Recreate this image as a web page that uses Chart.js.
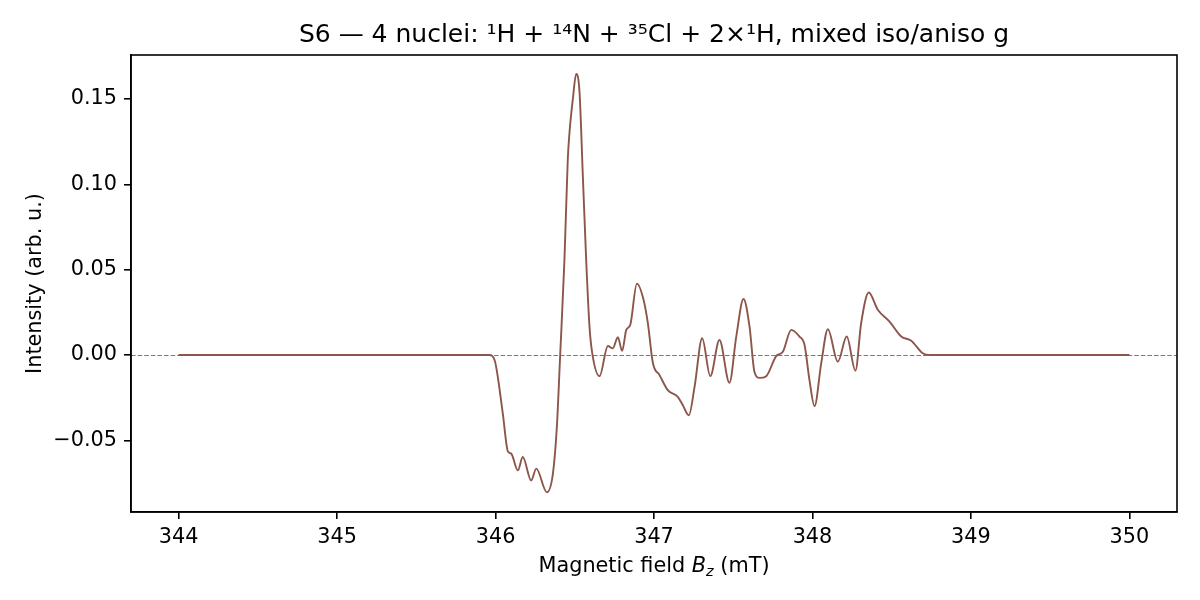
<!DOCTYPE html>
<html>
<head>
<meta charset="utf-8">
<script src="https://cdn.jsdelivr.net/npm/chart.js@4.4.1/dist/chart.umd.min.js"></script>
<style>
  html, body { margin: 0; padding: 0; background: #fff; }
  #epr-chart { display: block; }
</style>
</head>
<body>
<canvas id="epr-chart" width="1200" height="600"></canvas>
<script>
// --- datos ---
const fieldValues = [
    344.000, 345.962, 345.994, 346.046, 346.078, 346.099, 346.141, 346.172,
    346.225, 346.257, 346.324, 346.362, 346.387, 346.408, 346.435, 346.456,
    346.467, 346.488, 346.509, 346.530, 346.551, 346.572, 346.593, 346.610,
    346.656, 346.709, 346.740, 346.772, 346.799, 346.825, 346.850, 346.892,
    346.934, 346.961, 346.993, 347.035, 347.087, 347.150, 347.182, 347.220,
    347.256, 347.304, 347.355, 347.413, 347.476, 347.519, 347.565, 347.603,
    347.634, 347.666, 347.708, 347.771, 347.813, 347.866, 347.918, 347.950,
    347.981, 348.013, 348.055, 348.097, 348.160, 348.216, 348.271, 348.307,
    348.355, 348.412, 348.486, 348.560, 348.623, 348.696, 348.738, 350.000
];
const intensityValues = [
    0.0000, 0.0000, -0.0029, -0.0343, -0.0565, -0.0578, -0.0676, -0.0598,
    -0.0735, -0.0666, -0.0804, -0.0696, -0.0422, 0.0000, 0.0559, 0.1147,
    0.1306, 0.1500, 0.1647, 0.1541, 0.1049, 0.0559, 0.0166, 0.0012,
    -0.0124, 0.0053, 0.0039, 0.0104, 0.0024, 0.0147, 0.0176, 0.0418,
    0.0324, 0.0188, -0.0047, -0.0118, -0.0206, -0.0245, -0.0294, -0.0353,
    -0.0186, 0.0098, -0.0124, 0.0088, -0.0163, 0.0108, 0.0328, 0.0165,
    -0.0100, -0.0134, -0.0124, -0.0006, 0.0019, 0.0147, 0.0108, 0.0059,
    -0.0147, -0.0300, -0.0049, 0.0151, -0.0039, 0.0108, -0.0092, 0.0186,
    0.0366, 0.0265, 0.0196, 0.0108, 0.0084, 0.0010, 0.0000, 0.0000
];
const xTickValues = [344, 345, 346, 347, 348, 349, 350];
const yTickValues = [-0.05, 0.00, 0.05, 0.10, 0.15];
const xLimits = [343.7, 350.3];
const yLimits = [-0.0920, 0.1758];

const chartTitle = 'S6 \u2014 4 nuclei: \u00b9H + \u00b9\u2074N + \u00b3\u2075Cl + 2\u00d7\u00b9H, mixed iso/aniso g';
const yAxisTitle = 'Intensity (arb. u.)';

const FONT = '"DejaVu Sans", "Liberation Sans", sans-serif';
const lineColor = '#8c564b';

// marco completo, línea del cero, título y títulos de los ejes
const framePlugin = {
    id: 'frame',
    beforeDatasetsDraw(chart) {
        const { ctx, chartArea, scales } = chart;
        const y0 = Math.round(scales.y.getPixelForValue(0)) + 0.5;
        ctx.save();
        ctx.strokeStyle = '#7a7a7a';
        ctx.lineWidth = 1;
        ctx.setLineDash([4.6, 2]);
        ctx.beginPath();
        ctx.moveTo(chartArea.left, y0);
        ctx.lineTo(chartArea.right, y0);
        ctx.stroke();
        ctx.restore();
    },
    afterDraw(chart) {
        const { ctx, chartArea } = chart;
        const cx = (chartArea.left + chartArea.right) / 2;
        ctx.save();
        ctx.strokeStyle = '#000';
        ctx.lineWidth = 1.6;
        ctx.strokeRect(chartArea.left, chartArea.top,
            chartArea.right - chartArea.left, chartArea.bottom - chartArea.top);

        ctx.fillStyle = '#000';
        ctx.textBaseline = 'alphabetic';

        // título centrado sobre el área del gráfico
        ctx.font = '25px ' + FONT;
        ctx.textAlign = 'center';
        ctx.fillText(chartTitle, cx, 42);

        // título eje X con B en cursiva y subíndice z
        const big = '20.8px ' + FONT;
        const bigIt = 'italic 20.8px ' + FONT;
        const small = 'italic 14.5px ' + FONT;
        const parts = [
            { t: 'Magnetic field ', f: big, dy: 0 },
            { t: 'B', f: bigIt, dy: 0 },
            { t: 'z', f: small, dy: 4 },
            { t: ' (mT)', f: big, dy: 0 }
        ];
        let total = 0;
        parts.forEach(p => { ctx.font = p.f; p.w = ctx.measureText(p.t).width; total += p.w; });
        let x = cx - total / 2;
        ctx.textAlign = 'left';
        parts.forEach(p => { ctx.font = p.f; ctx.fillText(p.t, x, 572 + p.dy); x += p.w; });

        // título eje Y
        ctx.translate(41, (chartArea.top + chartArea.bottom) / 2);
        ctx.rotate(-Math.PI / 2);
        ctx.font = big;
        ctx.textAlign = 'center';
        ctx.fillText(yAxisTitle, 0, 0);
        ctx.restore();
    }
};

document.addEventListener('DOMContentLoaded', function() {
    const points = fieldValues.map((b, i) => ({ x: b, y: intensityValues[i] }));
    const ctx = document.getElementById('epr-chart').getContext('2d');

    new Chart(ctx, {
        type: 'line',
        data: {
            datasets: [{
                data: points,
                borderColor: lineColor,
                borderWidth: 1.9,
                pointRadius: 0,
                fill: false,
                cubicInterpolationMode: 'monotone'
            }]
        },
        options: {
            responsive: false,
            animation: false,
            devicePixelRatio: 1,
            layout: { padding: { left: 0, right: 23, top: 55, bottom: 0 } },
            scales: {
                x: {
                    type: 'linear',
                    min: xLimits[0],
                    max: xLimits[1],
                    afterBuildTicks: s => { s.ticks = xTickValues.map(v => ({ value: v })); },
                    afterFit: s => { s.height = 88; },
                    ticks: {
                        color: '#000',
                        font: { family: FONT, size: 20.8 },
                        padding: 6,
                        maxRotation: 0,
                        callback: v => String(v)
                    },
                    grid: { drawOnChartArea: false, drawTicks: true, tickLength: 7, color: '#000', lineWidth: 1.6 },
                    border: { display: true, color: '#000', width: 1.6 }
                },
                y: {
                    type: 'linear',
                    min: yLimits[0],
                    max: yLimits[1],
                    afterBuildTicks: s => { s.ticks = yTickValues.map(v => ({ value: v })); },
                    afterFit: s => { s.width = 131; },
                    ticks: {
                        color: '#000',
                        font: { family: FONT, size: 20.8 },
                        padding: 7,
                        callback: v => (v < 0 ? '\u2212' : '') + Math.abs(v).toFixed(2)
                    },
                    grid: { drawOnChartArea: false, drawTicks: true, tickLength: 7, color: '#000', lineWidth: 1.6 },
                    border: { display: true, color: '#000', width: 1.6 }
                }
            },
            plugins: {
                legend: { display: false },
                tooltip: { enabled: false },
                title: { display: false }
            }
        },
        plugins: [framePlugin]
    });
});
</script>
</body>
</html>
